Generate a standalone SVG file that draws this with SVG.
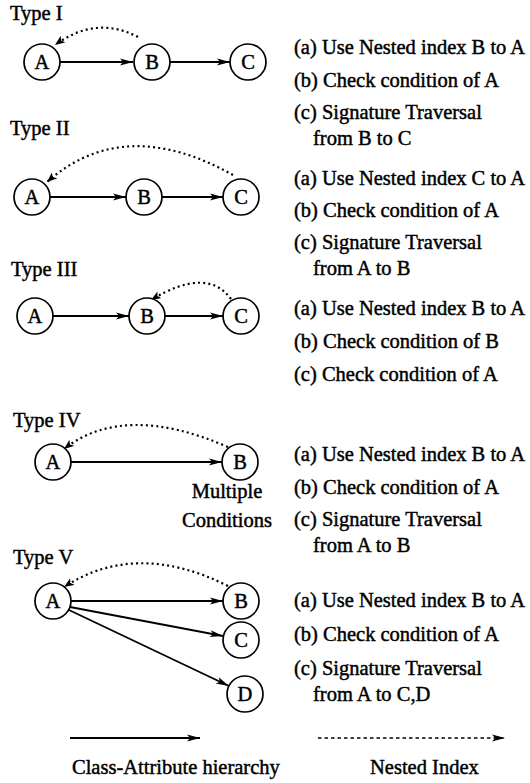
<svg xmlns="http://www.w3.org/2000/svg" width="530" height="783" viewBox="0 0 530 783">
  <style>
    text { font-family: "Liberation Serif", "Times New Roman", serif; font-size: 20.5px; fill: #000; stroke: #000; stroke-width: 0.45; }
    .node circle { fill: #fff; stroke: #000; stroke-width: 1.7; }
    .node text { text-anchor: middle; }
    .solid { fill: none; stroke: #000; stroke-width: 1.8; marker-end: url(#head); }
    .dotted { fill: none; stroke: #000; stroke-width: 2.2; stroke-dasharray: 2 3.2; marker-end: url(#headSmall); }
    .legend-dotted { fill: none; stroke: #000; stroke-width: 1.4; stroke-dasharray: 3.5 3; marker-end: url(#head); }
    .mid { text-anchor: middle; }
  </style>
  <defs>
    <marker id="head" markerUnits="userSpaceOnUse" markerWidth="14" markerHeight="10" refX="13" refY="4" orient="auto">
      <path d="M0,0.5 L13,4 L0,7.5 L3,4 z" fill="#000"/>
    </marker>
    <marker id="headSmall" markerUnits="userSpaceOnUse" markerWidth="12" markerHeight="10" refX="10" refY="4" orient="auto">
      <path d="M0,0 L10,4 L0,8 L2.5,4 z" fill="#000"/>
    </marker>
  </defs>

  <!-- type labels -->
  <g id="type-labels">
    <text x="10" y="20">Type I</text>
    <text x="10" y="135">Type II</text>
    <text x="11" y="276">Type III</text>
    <text x="13" y="427">Type IV</text>
    <text x="13" y="564">Type V</text>
  </g>

  <!-- connectors -->
  <g id="connectors">
    <!-- Type I -->
    <path class="solid" d="M60,62 H133"/>
    <path class="solid" d="M170,62 H230"/>
    <path class="dotted" d="M138,37 Q96,15 55,45"/>
    <!-- Type II -->
    <path class="solid" d="M50,197 H126"/>
    <path class="solid" d="M162,197 H223"/>
    <path class="dotted" d="M233,175 Q124,114 47,182"/>
    <!-- Type III -->
    <path class="solid" d="M53,316 H129"/>
    <path class="solid" d="M165,316 H223"/>
    <path class="dotted" d="M231,299 Q207,266 151,300"/>
    <!-- Type IV -->
    <path class="solid" d="M71,462 H222"/>
    <path class="dotted" d="M228,447 Q124,402 64,449"/>
    <!-- Type V -->
    <path class="solid" d="M71,601 H223"/>
    <path class="solid" d="M70,607 L223,636"/>
    <path class="solid" d="M69,610 L229,686"/>
    <path class="dotted" d="M228,586 Q136,540 64,587"/>
    <!-- legend -->
    <path class="solid" d="M70,738 H200"/>
    <path class="legend-dotted" d="M318,738 H505"/>
  </g>

  <!-- Type I nodes -->
  <g id="t1-A" class="node"><circle cx="42" cy="62" r="18"/><text x="42" y="69">A</text></g>
  <g id="t1-B" class="node"><circle cx="152" cy="62" r="18"/><text x="152" y="69">B</text></g>
  <g id="t1-C" class="node"><circle cx="248" cy="62" r="18"/><text x="248" y="69">C</text></g>

  <!-- Type II nodes -->
  <g id="t2-A" class="node"><circle cx="32" cy="197" r="18"/><text x="32" y="204">A</text></g>
  <g id="t2-B" class="node"><circle cx="144" cy="197" r="18"/><text x="144" y="204">B</text></g>
  <g id="t2-C" class="node"><circle cx="241" cy="197" r="18"/><text x="241" y="204">C</text></g>

  <!-- Type III nodes -->
  <g id="t3-A" class="node"><circle cx="35" cy="316" r="18"/><text x="35" y="323">A</text></g>
  <g id="t3-B" class="node"><circle cx="147" cy="316" r="18"/><text x="147" y="323">B</text></g>
  <g id="t3-C" class="node"><circle cx="241" cy="316" r="18"/><text x="241" y="323">C</text></g>

  <!-- Type IV nodes -->
  <g id="t4-A" class="node"><circle cx="53" cy="462" r="18"/><text x="53" y="469">A</text></g>
  <g id="t4-B" class="node"><circle cx="240" cy="462" r="18"/><text x="240" y="469">B</text></g>
  <g id="t4-note">
    <text class="mid" x="227" y="498">Multiple</text>
    <text class="mid" x="227" y="527">Conditions</text>
  </g>

  <!-- Type V nodes -->
  <g id="t5-A" class="node"><circle cx="53" cy="601" r="18"/><text x="53" y="608">A</text></g>
  <g id="t5-B" class="node"><circle cx="241" cy="601" r="18"/><text x="241" y="608">B</text></g>
  <g id="t5-C" class="node"><circle cx="241" cy="640" r="18"/><text x="241" y="647">C</text></g>
  <g id="t5-D" class="node"><circle cx="245" cy="694" r="18"/><text x="245" y="701">D</text></g>

  <!-- processing steps -->
  <g id="steps-1">
    <text x="294" y="54">(a) Use Nested index B to A</text>
    <text x="294" y="87">(b) Check condition of A</text>
    <text x="294" y="119">(c) Signature Traversal</text>
    <text x="313" y="145">from B to C</text>
  </g>
  <g id="steps-2">
    <text x="294" y="185">(a) Use Nested index C to A</text>
    <text x="294" y="217">(b) Check condition of A</text>
    <text x="294" y="249">(c) Signature Traversal</text>
    <text x="313" y="275">from A to B</text>
  </g>
  <g id="steps-3">
    <text x="294" y="315">(a) Use Nested index B to A</text>
    <text x="294" y="348">(b) Check condition of B</text>
    <text x="294" y="381">(c) Check condition of A</text>
  </g>
  <g id="steps-4">
    <text x="294" y="461">(a) Use Nested index B to A</text>
    <text x="294" y="494">(b) Check condition of A</text>
    <text x="294" y="526">(c) Signature Traversal</text>
    <text x="313" y="552">from A to B</text>
  </g>
  <g id="steps-5">
    <text x="294" y="607">(a) Use Nested index B to A</text>
    <text x="294" y="641">(b) Check condition of A</text>
    <text x="294" y="675">(c) Signature Traversal</text>
    <text x="313" y="701">from A to C,D</text>
  </g>

  <!-- legend -->
  <g id="legend">
    <text x="72" y="774">Class-Attribute hierarchy</text>
    <text x="370" y="774">Nested Index</text>
  </g>
</svg>
